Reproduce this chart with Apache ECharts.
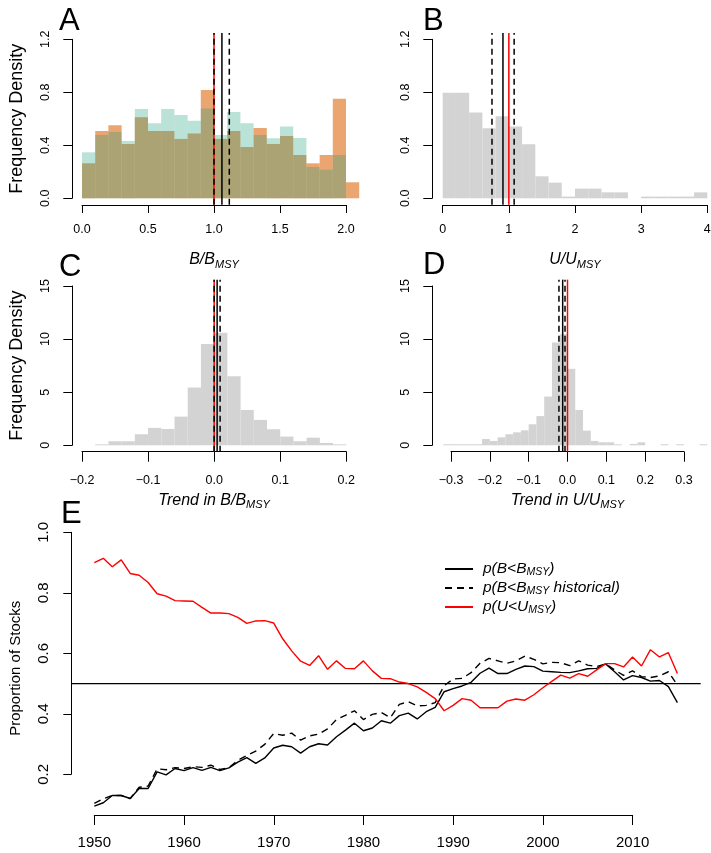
<!DOCTYPE html>
<html><head><meta charset="utf-8">
<script src="https://cdn.jsdelivr.net/npm/echarts@6/dist/echarts.min.js"></script>
<style>html,body{margin:0;padding:0;background:#fff}#c{width:711px;height:853px}</style>
</head><body><div id="c"></div>
<script>
// ---------------- DATA ----------------
// Panel A: B/BMSY histogram (two overlaid distributions)
const binEdgesA = [0,0.1,0.2,0.3,0.4,0.5,0.6,0.7,0.8,0.9,1.0,1.1,1.2,1.3,1.4,1.5,1.6,1.7,1.8,1.9,2.0];
const binWidthA = 0.1;
const tealA   = [0.347,0.478,0.50,0.433,0.674,0.566,0.674,0.629,0.586,0.677,0.478,0.652,0.566,0.478,0.453,0.541,0.455,0.236,0.216,0.327,0];
const orangeA = [0.264,0.508,0.551,0.41,0.611,0.508,0.508,0.448,0.49,0.818,0.448,0.508,0.387,0.531,0.41,0.47,0.327,0.264,0.327,0.752,0.121];
const redLineA = [1.0], solidLineA = [1.06], dashLinesA = [1.0, 1.116];

// Panel B: U/UMSY histogram
const binEdgesB = [0,0.2,0.4,0.6,0.8,1.0,1.2,1.4,1.6,1.8,2.0,2.2,2.4,2.6,2.8,3.0,3.2,3.4,3.6,3.8];
const binWidthB = 0.2;
const valsB = [0.797,0.797,0.647,0.528,0.619,0.541,0.408,0.166,0.118,0.013,0.073,0.073,0.045,0.045,0,0.013,0.013,0.013,0.013,0.045];
const redLineB = [1.0], solidLineB = [0.911], dashLinesB = [0.745, 1.08];

// Panel C: trend in B/BMSY
const binEdgesC = [-0.18,-0.16,-0.14,-0.12,-0.10,-0.08,-0.06,-0.04,-0.02,0,0.02,0.04,0.06,0.08,0.10,0.12,0.14,0.16,0.18];
const binWidthC = 0.02;
const valsC = [0.09,0.38,0.38,1.04,1.64,1.54,2.7,5.44,9.53,10.6,6.51,3.33,2.39,1.51,0.82,0.38,0.72,0.22,0.09];
const redLineC = [0.0], solidLineC = [0.0045], dashLinesC = [0.0, 0.009];

// Panel D: trend in U/UMSY
const binEdgesD = [-0.32,-0.30,-0.28,-0.26,-0.24,-0.22,-0.20,-0.18,-0.16,-0.14,-0.12,-0.10,-0.08,-0.06,-0.04,-0.02,0,0.02,0.04,0.06,0.08,0.10,0.12,0.14,0.16,0.18,0.20,0.22,0.24,0.26,0.28,0.30,0.32,0.34];
const binWidthD = 0.02;
const valsD = [0.1,0.1,0.1,0.1,0.1,0.59,0.41,0.75,1.04,1.22,1.41,1.98,2.75,4.59,9.67,10.45,7.2,3.33,1.38,0.41,0.28,0.28,0.09,0,0.13,0.28,0,0,0.1,0,0.1,0,0,0.1];
const redLineD = [0.0], solidLineD = [-0.0124], dashLinesD = [-0.022, -0.0064];

// Panel E: proportion of stocks over time
const years = [1950,1951,1952,1953,1954,1955,1956,1957,1958,1959,1960,1961,1962,1963,1964,1965,1966,1967,1968,1969,1970,1971,1972,1973,1974,1975,1976,1977,1978,1979,1980,1981,1982,1983,1984,1985,1986,1987,1988,1989,1990,1991,1992,1993,1994,1995,1996,1997,1998,1999,2000,2001,2002,2003,2004,2005,2006,2007,2008,2009,2010,2011,2012,2013,2014,2015];
const pB = [0.095,0.106,0.13,0.13,0.12,0.153,0.153,0.208,0.198,0.219,0.212,0.222,0.213,0.223,0.212,0.221,0.24,0.255,0.236,0.254,0.287,0.296,0.291,0.27,0.291,0.301,0.297,0.324,0.346,0.369,0.344,0.353,0.377,0.369,0.394,0.402,0.383,0.407,0.421,0.473,0.483,0.492,0.504,0.534,0.551,0.533,0.533,0.547,0.558,0.556,0.541,0.539,0.537,0.536,0.542,0.549,0.55,0.565,0.539,0.512,0.526,0.52,0.508,0.51,0.49,0.437];
const pBhist = [0.104,0.119,0.13,0.13,0.12,0.157,0.161,0.218,0.215,0.222,0.219,0.225,0.223,0.23,0.216,0.222,0.246,0.262,0.277,0.299,0.335,0.329,0.336,0.313,0.327,0.333,0.35,0.381,0.395,0.41,0.381,0.398,0.404,0.387,0.431,0.44,0.426,0.428,0.437,0.493,0.515,0.517,0.536,0.567,0.583,0.575,0.567,0.575,0.591,0.58,0.565,0.57,0.569,0.559,0.575,0.561,0.556,0.565,0.545,0.527,0.542,0.523,0.52,0.525,0.539,0.495];
const pU = [0.90,0.914,0.886,0.909,0.864,0.858,0.834,0.797,0.789,0.774,0.773,0.772,0.752,0.733,0.733,0.731,0.719,0.699,0.707,0.708,0.70,0.648,0.608,0.574,0.56,0.592,0.547,0.575,0.55,0.549,0.575,0.542,0.517,0.516,0.505,0.50,0.489,0.471,0.45,0.41,0.428,0.45,0.445,0.42,0.42,0.42,0.442,0.449,0.445,0.463,0.486,0.507,0.528,0.518,0.533,0.524,0.545,0.566,0.566,0.555,0.588,0.558,0.612,0.588,0.602,0.533];
const refLevelE = 0.5;
const seriesNamesE = ['p(B<BMSY)', 'p(B<BMSY historical)', 'p(U<UMSY)'];

// ---------------- STYLE / HELPERS ----------------
const FF = "'Liberation Sans', Arimo, Arial, sans-serif";
const TEAL = 'rgba(27,158,119,0.3)';
const ORANGE = 'rgba(217,95,2,0.56)';
const GREY = '#d3d3d3';

const chart = echarts.init(document.getElementById('c'), null, {renderer: 'canvas'});

function histSeries(gi, edges, width, vals, color) {
  return {
    type: 'custom', xAxisIndex: gi, yAxisIndex: gi, clip: false, silent: true,
    dimensions: ['x0', 'x1', 'v'], encode: {x: [0, 1], y: 2},
    data: edges.map((e, i) => [e, e + width, vals[i]]),
    renderItem(params, api) {
      const p0 = api.coord([api.value(0), 0]);
      const p1 = api.coord([api.value(1), api.value(2)]);
      return {type: 'rect', shape: {x: p0[0], y: p1[1], width: p1[0] - p0[0], height: p0[1] - p1[1]},
        style: {fill: color}};
    }
  };
}
function vlineSeries(gi, xs, yLo, yHi, color, dashed) {
  return {
    type: 'custom', xAxisIndex: gi, yAxisIndex: gi, clip: false, silent: true, z: 5,
    data: xs.map(x => [x, yLo]),
    renderItem(params, api) {
      const a = api.coord([api.value(0), yLo]);
      const b = api.coord([api.value(0), yHi]);
      return {type: 'line', shape: {x1: a[0], y1: a[1], x2: b[0], y2: b[1]},
        style: {stroke: color, lineWidth: 1.5, lineDash: dashed ? [6, 4] : null}};
    }
  };
}
function ext(lo, hi) { const d = (hi - lo) * 0.04; return [lo - d, hi + d]; }
const fmt1 = v => { const s = (Math.abs(v) < 1e-9 ? 0 : v).toFixed(1); return s.replace('-', '\u2212'); };
const fmt0 = v => String(v);

const richName = {
  i: {fontFamily: FF, fontStyle: 'italic', fontSize: 16, lineHeight: 20, color: '#000', verticalAlign: 'middle'},
  s: {fontFamily: FF, fontStyle: 'italic', fontSize: 11, lineHeight: 11, color: '#000', verticalAlign: 'bottom'}
};

function xAx(gi, min, max, interval, offset, fmt, tickLen, margin, name, nameGap, fontSize) {
  return {
    gridIndex: gi, type: 'value', min, max, interval, offset,
    splitLine: {show: false},
    axisLine: {show: true, onZero: false, lineStyle: {color: '#000', width: 1}},
    axisTick: {show: true, length: tickLen, lineStyle: {color: '#000', width: 1}},
    axisLabel: {color: '#000', fontFamily: FF, fontSize: fontSize || 12.5, margin, formatter: fmt, showMinLabel: true, showMaxLabel: true},
    name, nameLocation: 'middle', nameGap, nameMoveOverlap: false,
    nameTextStyle: {rich: richName}
  };
}
function yAx(gi, min, max, interval, offset, fmt, tickLen, margin, name, nameGap, fontSize, namePad, labelSize) {
  return {
    gridIndex: gi, type: 'value', min, max, interval, offset,
    splitLine: {show: false},
    axisLine: {show: true, onZero: false, lineStyle: {color: '#000', width: 1}},
    axisTick: {show: true, length: tickLen, lineStyle: {color: '#000', width: 1}},
    axisLabel: {color: '#000', fontFamily: FF, fontSize: labelSize || 12.5, margin, rotate: 90, formatter: fmt, showMinLabel: true, showMaxLabel: true},
    name, nameLocation: 'middle', nameRotate: 90, nameGap, nameMoveOverlap: false,
    nameTextStyle: {color: '#000', fontFamily: FF, fontSize, padding: namePad || 0}
  };
}
function hiddenAx(gi, min, max) {
  return {gridIndex: gi, type: 'value', min, max, show: false, splitLine: {show: false}};
}

const yA = ext(0, 1.2), yC = ext(0, 15);
const xE = ext(years[0], years[years.length - 1]);

const option = {
  backgroundColor: '#fff',
  animation: false,
  grid: [
    {left: 82, top: 39.3, width: 264, height: 159, outerBoundsMode: 'none'},
    {left: 442.7, top: 39.3, width: 264.6, height: 159, outerBoundsMode: 'none'},
    {left: 82, top: 286, width: 264.3, height: 159.3, outerBoundsMode: 'none'},
    {left: 451, top: 286, width: 233, height: 159.3, outerBoundsMode: 'none'},
    // E data region (full plotting region)
    {left: 71, top: 532.3, width: 629.7, height: 242, outerBoundsMode: 'none'},
    // E axis region (1950..2010 ticks)
    {left: 94.3, top: 532.3, width: 538.4, height: 242, outerBoundsMode: 'none'}
  ],
  xAxis: [
    xAx(0, 0, 2, 0.5, 6.7, fmt1, 8, 18, '{i|B/B}{s|MSY}', 45),
    xAx(1, 0, 4, 1, 6.7, fmt0, 8, 18, '{i|U/U}{s|MSY}', 45),
    xAx(2, -0.2, 0.2, 0.1, 6.4, fmt1, 10, 22, '{i|Trend in B/B}{s|MSY}', 39),
    xAx(3, -0.3, 0.3, 0.1, 6.4, fmt1, 10, 22, '{i|Trend in U/U}{s|MSY}', 39),
    hiddenAx(4, xE[0], xE[1]),
    xAx(5, 1950, 2010, 10, 40.7, fmt0, 10, 20, '', 30, 15)
  ],
  yAxis: [
    yAx(0, 0, 1.2, 0.4, 10, fmt1, 8.7, 20, 'Frequency Density', 46, 18),
    yAx(1, 0, 1.2, 0.4, 10.7, fmt1, 8.7, 20, '', 46, 18),
    yAx(2, 0, 15, 5, 10, fmt0, 8.7, 20, 'Frequency Density', 46, 18),
    yAx(3, 0, 15, 5, 19, fmt0, 8.7, 20, '', 46, 18),
    yAx(4, 0.2, 1.0, 0.2, 0, fmt1, 7.7, 20, 'Proportion of Stocks', 48, 15, [0, 30, 0, 0], 15),
    hiddenAx(5, 0.2, 1.0)
  ],
  legend: {
    show: true, data: seriesNamesE, orient: 'vertical', left: 439, top: 556,
    itemWidth: 28, itemHeight: 14, itemGap: 2, selectedMode: false,
    itemStyle: {opacity: 0},
    formatter: n => {
      if (n === seriesNamesE[0]) return '{i|p(B<B}{s|MSY}{i|)}';
      if (n === seriesNamesE[1]) return '{i|p(B<B}{s|MSY}{i| historical)}';
      return '{i|p(U<U}{s|MSY}{i|)}';
    },
    textStyle: {color: '#000', fontFamily: FF, padding: [0, 0, 0, 5],
      rich: {
        i: {fontFamily: FF, fontStyle: 'italic', fontSize: 15.5, lineHeight: 18, color: '#000', verticalAlign: 'middle'},
        s: {fontFamily: FF, fontStyle: 'italic', fontSize: 10.5, lineHeight: 10, color: '#000', verticalAlign: 'bottom'}
      }}
  },
  graphic: [
    {type: 'text', left: 59, top: 6, style: {text: 'A', fontSize: 31, fontFamily: FF, fill: '#000'}},
    {type: 'text', left: 423, top: 6, style: {text: 'B', fontSize: 31, fontFamily: FF, fill: '#000'}},
    {type: 'text', left: 59, top: 252, style: {text: 'C', fontSize: 31, fontFamily: FF, fill: '#000'}},
    {type: 'text', left: 423, top: 250, style: {text: 'D', fontSize: 31, fontFamily: FF, fill: '#000'}},
    {type: 'text', left: 61, top: 499, style: {text: 'E', fontSize: 31, fontFamily: FF, fill: '#000'}}
  ],
  series: [
    // A
    histSeries(0, binEdgesA, binWidthA, orangeA, ORANGE),
    histSeries(0, binEdgesA, binWidthA, tealA, TEAL),
    vlineSeries(0, redLineA, yA[0], yA[1], '#ff0000', false),
    vlineSeries(0, solidLineA, yA[0], yA[1], '#000', false),
    vlineSeries(0, dashLinesA, yA[0], yA[1], '#000', true),
    // B
    histSeries(1, binEdgesB, binWidthB, valsB, GREY),
    vlineSeries(1, solidLineB, yA[0], yA[1], '#000', false),
    vlineSeries(1, dashLinesB, yA[0], yA[1], '#000', true),
    vlineSeries(1, redLineB, yA[0], yA[1], '#ff0000', false),
    // C
    histSeries(2, binEdgesC, binWidthC, valsC, GREY),
    vlineSeries(2, redLineC, yC[0], yC[1], '#ff0000', false),
    vlineSeries(2, solidLineC, yC[0], yC[1], '#000', false),
    vlineSeries(2, dashLinesC, yC[0], yC[1], '#000', true),
    // D
    histSeries(3, binEdgesD, binWidthD, valsD, GREY),
    vlineSeries(3, solidLineD, yC[0], yC[1], '#000', false),
    vlineSeries(3, dashLinesD, yC[0], yC[1], '#000', true),
    vlineSeries(3, redLineD, yC[0], yC[1], '#ff0000', false),
    // E
    {
      type: 'custom', xAxisIndex: 4, yAxisIndex: 4, clip: false, silent: true, z: 1,
      data: [[xE[0], refLevelE]],
      renderItem(params, api) {
        const a = api.coord([xE[0], refLevelE]);
        const b = api.coord([xE[1], refLevelE]);
        return {type: 'line', shape: {x1: a[0], y1: a[1], x2: b[0], y2: b[1]}, style: {stroke: '#000', lineWidth: 1.2}};
      }
    },
    {type: 'line', name: seriesNamesE[0], xAxisIndex: 4, yAxisIndex: 4, clip: false, symbol: 'none', showSymbol: false,
      data: years.map((y, i) => [y, pB[i]]), lineStyle: {color: '#000', width: 1.4}, itemStyle: {color: '#000'}},
    {type: 'line', name: seriesNamesE[1], xAxisIndex: 4, yAxisIndex: 4, clip: false, symbol: 'none', showSymbol: false,
      data: years.map((y, i) => [y, pBhist[i]]), lineStyle: {color: '#000', width: 1.4, type: [7, 5]}, itemStyle: {color: '#000'}},
    {type: 'line', name: seriesNamesE[2], xAxisIndex: 4, yAxisIndex: 4, clip: false, symbol: 'none', showSymbol: false,
      data: years.map((y, i) => [y, pU[i]]), lineStyle: {color: '#ff0000', width: 1.4}, itemStyle: {color: '#ff0000'}}
  ]
};
chart.setOption(option);
</script>
</body></html>
